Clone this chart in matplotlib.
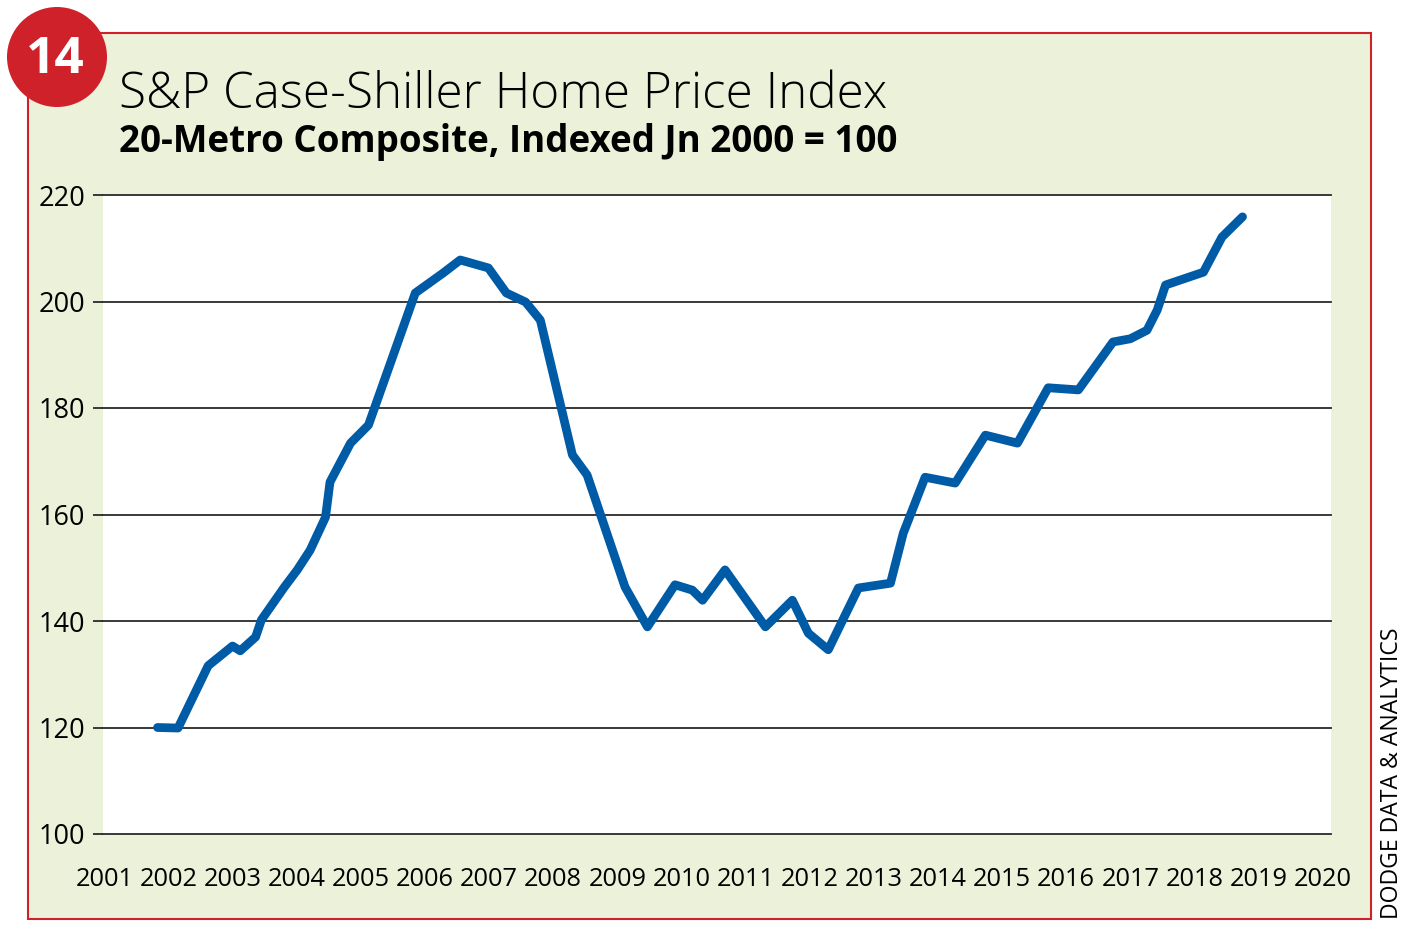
import matplotlib.pyplot as plt
from matplotlib.patches import Rectangle, Ellipse

# S&P Case-Shiller 20-metro composite
years = [2001.83, 2002.15, 2002.62, 2003.00, 2003.12, 2003.36, 2003.45, 2003.81,
         2004.01, 2004.21, 2004.45, 2004.52, 2004.84, 2005.12, 2005.85, 2006.29,
         2006.55, 2006.99, 2007.27, 2007.57, 2007.80, 2008.30, 2008.53, 2009.12,
         2009.47, 2009.90, 2010.17, 2010.33, 2010.68, 2011.31, 2011.73, 2011.98,
         2012.29, 2012.76, 2013.26, 2013.46, 2013.80, 2014.27, 2014.74, 2015.24,
         2015.72, 2016.19, 2016.73, 2017.00, 2017.26, 2017.42, 2017.55, 2018.14,
         2018.43, 2018.75]
index = [120.0, 119.9, 131.6, 135.3, 134.4, 137.0, 140.2, 146.4,
         149.6, 153.3, 159.5, 166.1, 173.4, 176.8, 201.6, 205.4,
         207.8, 206.3, 201.6, 199.9, 196.5, 171.2, 167.4, 146.4,
         138.9, 146.8, 145.8, 143.9, 149.6, 138.9, 143.9, 137.7,
         134.6, 146.2, 147.1, 156.5, 167.0, 165.9, 174.9, 173.4,
         183.8, 183.4, 192.4, 193.0, 194.6, 198.4, 203.1, 205.5,
         212.1, 215.9]

x_ticks = list(range(2001, 2021))
y_ticks = [100, 120, 140, 160, 180, 200, 220]

W, H = 1415, 936
fig = plt.figure(figsize=(W / 100, H / 100), dpi=100)
fig.patch.set_facecolor('white')
plt.rcParams['font.family'] = ['Open Sans', 'DejaVu Sans']

green = '#ECF1D9'
red = '#CE2129'
blue = '#005BA6'

# background panel with red frame
fig.patches.append(Rectangle((28 / W, 1 - 919 / H), (1371 - 28) / W, (919 - 33) / H,
                             transform=fig.transFigure, facecolor=green,
                             edgecolor=red, lw=1.5, zorder=-5))

ax = fig.add_axes([103 / W, 1 - 834 / H, (1331 - 103) / W, (834 - 195) / H])
ax.set_facecolor('white')
ax.plot(years, index, color=blue, lw=6.3, solid_capstyle='round',
        solid_joinstyle='round', zorder=3)

ax.set_xlim(2000.98, 2020.13)
ax.set_ylim(100, 220)
ax.set_yticks(y_ticks)
ax.set_xticks(x_ticks)
ax.set_xticklabels([str(y) for y in x_ticks])
for v in y_ticks[1:]:
    ax.axhline(v, color='#2a2a2a', lw=1.3, zorder=1, clip_on=False)
for s in ['top', 'right', 'left']:
    ax.spines[s].set_visible(False)
ax.spines['bottom'].set_color('#2a2a2a')
ax.spines['bottom'].set_linewidth(1.3)
ax.tick_params(axis='y', length=7, width=1.3, color='#2a2a2a', pad=6,
               labelsize=19.5)
ax.tick_params(axis='x', length=0, pad=24, labelsize=18.3)

# title block
fig.text(119 / W, 1 - 108 / H, 'S&P Case-Shiller Home Price Index',
         fontsize=35.6, fontweight='light', color='black', va='baseline')
fig.text(119 / W, 1 - 152 / H, '20-Metro Composite, Indexed Jn 2000 = 100',
         fontsize=26.5, fontweight='bold', color='black', va='baseline')

# red badge
fig.patches.append(Ellipse((57 / W, 1 - 57 / H), 100 / W, 100 / H,
                           transform=fig.transFigure, facecolor=red,
                           edgecolor='none', zorder=5))
fig.text(55 / W, 1 - 60 / H, '14', fontsize=37, fontweight='bold', color='white',
         ha='center', va='center', zorder=6)

fig.text(1392 / W, 1 - 773 / H, 'DODGE DATA & ANALYTICS', rotation=90,
         fontsize=16.6, color='black', ha='center', va='center')

fig.savefig('out.png', dpi=100)
